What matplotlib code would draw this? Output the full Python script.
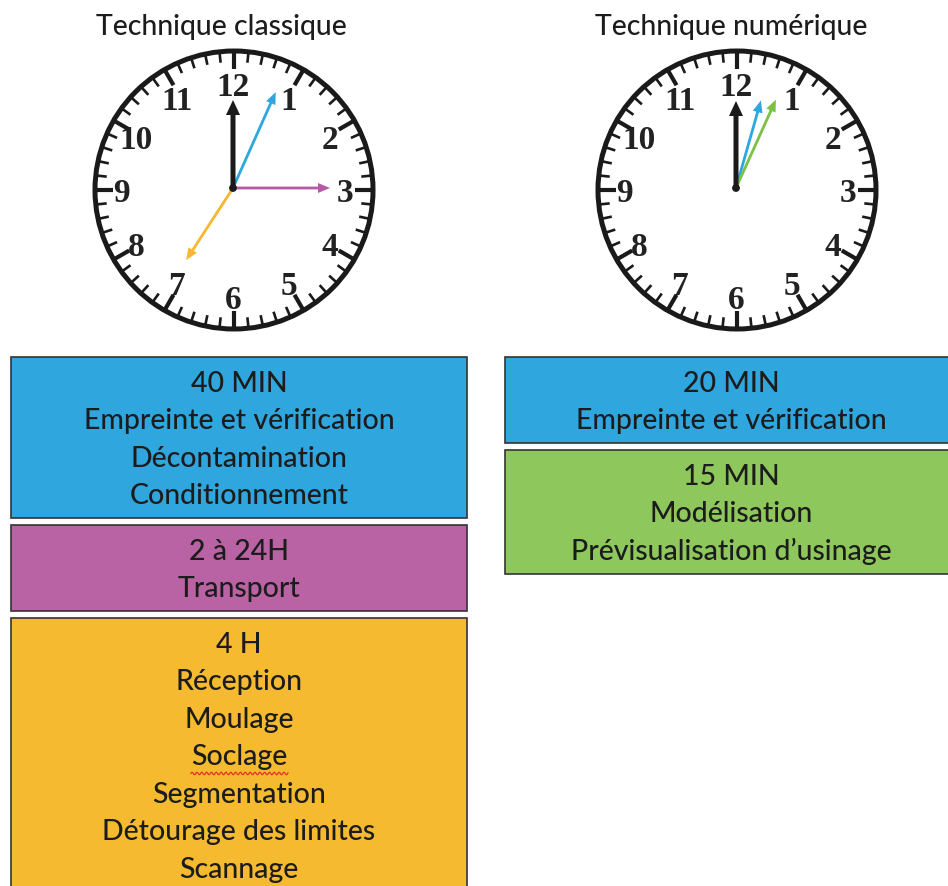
import numpy as np
import matplotlib.pyplot as plt
from matplotlib.patches import Rectangle, Circle, FancyArrow

# titles above the two clocks
titles = ['Technique classique', 'Technique numérique']

# clock hands, position in hours on the dial
classic_hands = [0.0, 0.8, 3.0, 7.1]
classic_colors = ['#1a1a1a', '#2ea7e0', '#b55ba6', '#f7b731']
digital_hands = [0.0, 0.53, 0.81]
digital_colors = ['#1a1a1a', '#2ea7e0', '#7dc143']

# text boxes
classic_times = ['40 MIN', '2 à 24H', '4 H']
classic_tasks = [
    ['Empreinte et vérification', 'Décontamination', 'Conditionnement'],
    ['Transport'],
    ['Réception', 'Moulage', 'Soclage', 'Segmentation', 'Détourage des limites', 'Scannage'],
]
classic_box_colors = ['#30a6de', '#b963a5', '#f5ba30']
digital_times = ['20 MIN', '15 MIN']
digital_tasks = [
    ['Empreinte et vérification'],
    ['Modélisation', 'Prévisualisation d\u2019usinage'],
]
digital_box_colors = ['#30a6de', '#8ec75b']

# layout (pixels)
W, H = 948, 887
line_h = 37.5
txt_font = 'Lato'
txt_size = 20.5
txt_weight = 500
txt_color = '#1c1c1c'

fig = plt.figure(figsize=(W / 100, H / 100), dpi=100)
ax = fig.add_axes([0, 0, 1, 1])
ax.set_xlim(0, W)
ax.set_ylim(H, 0)
ax.axis('off')


def draw_clock(cx, cy, hours, colors, lengths):
    R = 139
    ax.add_patch(Circle((cx + 1, cy + 2), R, fill=False, lw=3.6, ec='#1a1a1a'))
    for i in range(60):
        a = np.deg2rad(i * 6)
        if i % 5 == 0:
            r0, lw = R - 18, 3.0
        else:
            r0, lw = R - 11, 1.9
        ax.plot([cx + 1 + r0 * np.sin(a), cx + 1 + R * np.sin(a)],
                [cy + 2 - r0 * np.cos(a), cy + 2 - R * np.cos(a)],
                color='#1a1a1a', lw=lw, solid_capstyle='butt')
    for h in range(1, 13):
        a = np.deg2rad(h * 30)
        ax.text(cx + 112 * np.sin(a), cy + 5 - 107 * np.cos(a), str(h),
                ha='center', va='center', fontsize=24, fontweight='bold',
                family='Liberation Serif', color='#222222')
    for k, (hr, col) in enumerate(zip(hours, colors)):
        a = np.deg2rad(hr * 30)
        L = lengths[k]
        if k == 0:
            w, hw, hl = 5.0, 14, 15
        else:
            w, hw, hl = 2.8, 10, 12
        ax.add_patch(FancyArrow(cx, cy, L * np.sin(a), -L * np.cos(a), width=w,
                                head_width=hw, head_length=hl,
                                length_includes_head=True, color=col, lw=0,
                                zorder=3 + k if k else 10))
    ax.add_patch(Circle((cx, cy), 3.2, color='#1a1a1a', zorder=11))


draw_clock(233, 189, classic_hands, classic_colors, [88, 105, 97, 86])
draw_clock(736, 189, digital_hands, digital_colors, [87, 91, 97])

ax.text(221, 35, titles[0], ha='center', va='baseline', fontsize=20.5,
        family=txt_font, fontweight=txt_weight, color=txt_color)
ax.text(731, 35, titles[1], ha='center', va='baseline', fontsize=20.5,
        family=txt_font, fontweight=txt_weight, color=txt_color)


def draw_boxes(x0, x1, text_x, top, times, tasks, colors):
    y = top
    for t, items, col in zip(times, tasks, colors):
        lines = [t] + items
        h = len(lines) * line_h + 11
        ax.add_patch(Rectangle((x0, y), x1 - x0, h, fc=col, ec='#333333', lw=1.2))
        for i, s in enumerate(lines):
            ax.text(text_x, y + 34 + i * line_h, s, ha='center', va='baseline',
                    fontsize=txt_size, family=txt_font, fontweight=txt_weight,
                    color=txt_color)
            if s == 'Soclage':
                xs = np.linspace(text_x - 48, text_x + 49, 120)
                ax.plot(xs, y + 34 + i * line_h + 9 + 1.3 * np.sin(xs * 1.3),
                        color='#e8302a', lw=0.9)
        y += h + 7


draw_boxes(11, 467, 239, 358, classic_times, classic_tasks, classic_box_colors)
draw_boxes(505, 960, 731, 358, digital_times, digital_tasks, digital_box_colors)

fig.savefig('out.png', dpi=100)
